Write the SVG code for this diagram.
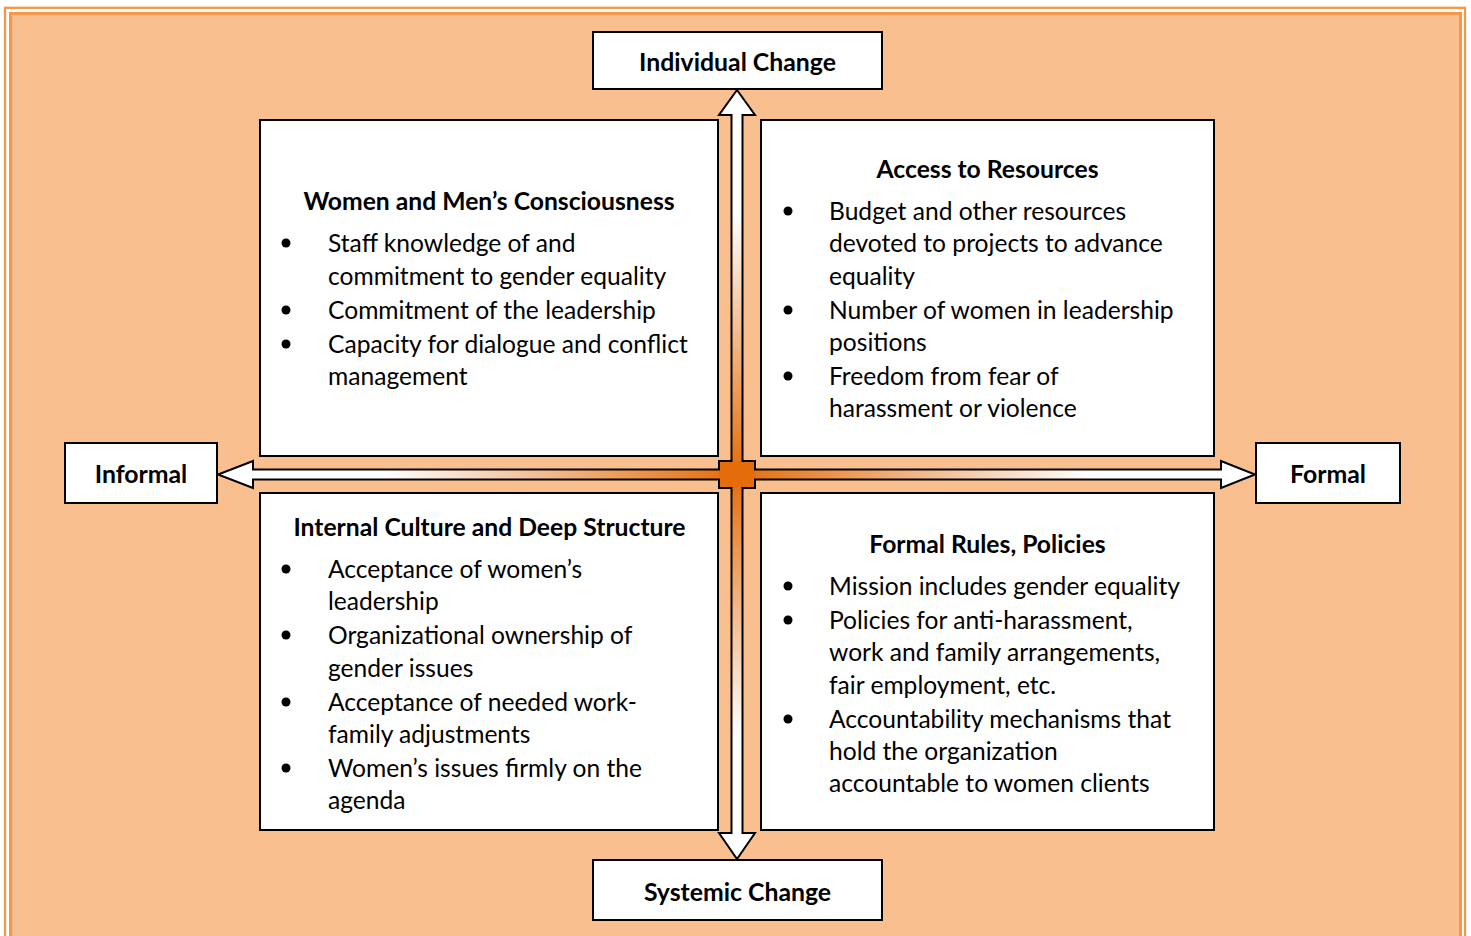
<svg xmlns="http://www.w3.org/2000/svg" width="1471" height="936" viewBox="0 0 1471 936">
<style>
.box{fill:#fff;stroke:#000;stroke-width:2}
.lbl{font-family:Lato,"Liberation Sans",sans-serif;font-weight:bold;font-size:24.8px;fill:#000;text-anchor:middle}
.ttl{font-family:Lato,"Liberation Sans",sans-serif;font-weight:bold;font-size:24.7px;fill:#000;text-anchor:middle}
.txt{font-family:Lato,"Liberation Sans",sans-serif;font-size:24.6px;fill:#000}
.bul{fill:#000}
</style>
<defs>
<linearGradient id="gv" gradientUnits="userSpaceOnUse" x1="0" y1="90" x2="0" y2="859">
<stop offset="0" stop-color="#fff"/><stop offset="0.16" stop-color="#fff"/><stop offset="0.5" stop-color="#E46C0A"/><stop offset="0.84" stop-color="#fff"/><stop offset="1" stop-color="#fff"/>
</linearGradient>
<linearGradient id="gh" gradientUnits="userSpaceOnUse" x1="218" y1="0" x2="1255" y2="0">
<stop offset="0" stop-color="#fff"/><stop offset="0.16" stop-color="#fff"/><stop offset="0.5" stop-color="#E46C0A"/><stop offset="0.84" stop-color="#fff"/><stop offset="1" stop-color="#fff"/>
</linearGradient>
</defs>
<rect x="0" y="0" width="1471" height="936" fill="#fff"/>
<rect x="5" y="7.8" width="1460" height="1000" fill="none" stroke="#F79646" stroke-width="2.3"/>
<rect x="10.5" y="13.5" width="1450" height="1000" fill="#FABF8F" stroke="#F79646" stroke-width="3"/>

<g id="connectors">
<polygon points="737,90 755,115 742.5,115 742.5,833 755,833 737,859 719,833 731.5,833 731.5,115 719,115" fill="url(#gv)"/>
<polygon points="218,474.5 253,461 253,469.5 1221,469.5 1221,461 1255,474.5 1221,488 1221,479.5 253,479.5 253,488" fill="url(#gh)"/>
<rect x="719" y="461" width="36" height="27" fill="#E46C0A"/>
<path d="M737,90 L755,115 L742.5,115 L742.5,461 L755,461 L755,469.5 L1221,469.5 L1221,461 L1255,474.5 L1221,488 L1221,479.5 L755,479.5 L755,488 L742.5,488 L742.5,833 L755,833 L737,859 L719,833 L731.5,833 L731.5,488 L719,488 L719,479.5 L253,479.5 L253,488 L218,474.5 L253,461 L253,469.5 L719,469.5 L719,461 L731.5,461 L731.5,115 L719,115 Z" fill="none" stroke="#000" stroke-width="2" stroke-linejoin="miter"/>
</g>

<g id="individual-change">
<rect class="box" x="593" y="32" width="289" height="57"/>
<text class="lbl" x="737.5" y="71">Individual Change</text>
</g>
<g id="systemic-change">
<rect class="box" x="593" y="860" width="289" height="60"/>
<text class="lbl" x="737.5" y="901">Systemic Change</text>
</g>
<g id="informal">
<rect class="box" x="65" y="443" width="152" height="60"/>
<text class="lbl" x="141" y="483">Informal</text>
</g>
<g id="formal">
<rect class="box" x="1256" y="443" width="144" height="60"/>
<text class="lbl" x="1328" y="483">Formal</text>
</g>

<g id="consciousness">
<rect class="box" x="260" y="120" width="458" height="336"/>
<text class="ttl" x="489" y="210">Women and Men’s Consciousness</text>
<circle class="bul" cx="286" cy="243" r="4.5"/>
<text class="txt" x="328" y="252">Staff knowledge of and</text>
<text class="txt" x="328" y="285">commitment to gender equality</text>
<circle class="bul" cx="286" cy="310" r="4.5"/>
<text class="txt" x="328" y="319">Commitment of the leadership</text>
<circle class="bul" cx="286" cy="344" r="4.5"/>
<text class="txt" x="328" y="353">Capacity for dialogue and conflict</text>
<text class="txt" x="328" y="385">management</text>
</g>

<g id="resources">
<rect class="box" x="761" y="120" width="453" height="336"/>
<text class="ttl" x="987.5" y="178">Access to Resources</text>
<circle class="bul" cx="788" cy="211" r="4.5"/>
<text class="txt" x="829" y="220">Budget and other resources</text>
<text class="txt" x="829" y="252">devoted to projects to advance</text>
<text class="txt" x="829" y="285">equality</text>
<circle class="bul" cx="788" cy="310" r="4.5"/>
<text class="txt" x="829" y="319">Number of women in leadership</text>
<text class="txt" x="829" y="351">positions</text>
<circle class="bul" cx="788" cy="376" r="4.5"/>
<text class="txt" x="829" y="385">Freedom from fear of</text>
<text class="txt" x="829" y="417">harassment or violence</text>
</g>

<g id="culture">
<rect class="box" x="260" y="493" width="458" height="337"/>
<text class="ttl" x="489.5" y="536">Internal Culture and Deep Structure</text>
<circle class="bul" cx="286" cy="569" r="4.5"/>
<text class="txt" x="328" y="578">Acceptance of women’s</text>
<text class="txt" x="328" y="610">leadership</text>
<circle class="bul" cx="286" cy="635" r="4.5"/>
<text class="txt" x="328" y="644">Organizational ownership of</text>
<text class="txt" x="328" y="677">gender issues</text>
<circle class="bul" cx="286" cy="702" r="4.5"/>
<text class="txt" x="328" y="711">Acceptance of needed work-</text>
<text class="txt" x="328" y="743">family adjustments</text>
<circle class="bul" cx="286" cy="768" r="4.5"/>
<text class="txt" x="328" y="777">Women’s issues firmly on the</text>
<text class="txt" x="328" y="809">agenda</text>
</g>

<g id="rules">
<rect class="box" x="761" y="493" width="453" height="337"/>
<text class="ttl" x="987.5" y="553">Formal Rules, Policies</text>
<circle class="bul" cx="788" cy="586" r="4.5"/>
<text class="txt" x="829" y="595">Mission includes gender equality</text>
<circle class="bul" cx="788" cy="620" r="4.5"/>
<text class="txt" x="829" y="629">Policies for anti-harassment,</text>
<text class="txt" x="829" y="661">work and family arrangements,</text>
<text class="txt" x="829" y="694">fair employment, etc.</text>
<circle class="bul" cx="788" cy="719" r="4.5"/>
<text class="txt" x="829" y="728">Accountability mechanisms that</text>
<text class="txt" x="829" y="760">hold the organization</text>
<text class="txt" x="829" y="792">accountable to women clients</text>
</g>
</svg>
